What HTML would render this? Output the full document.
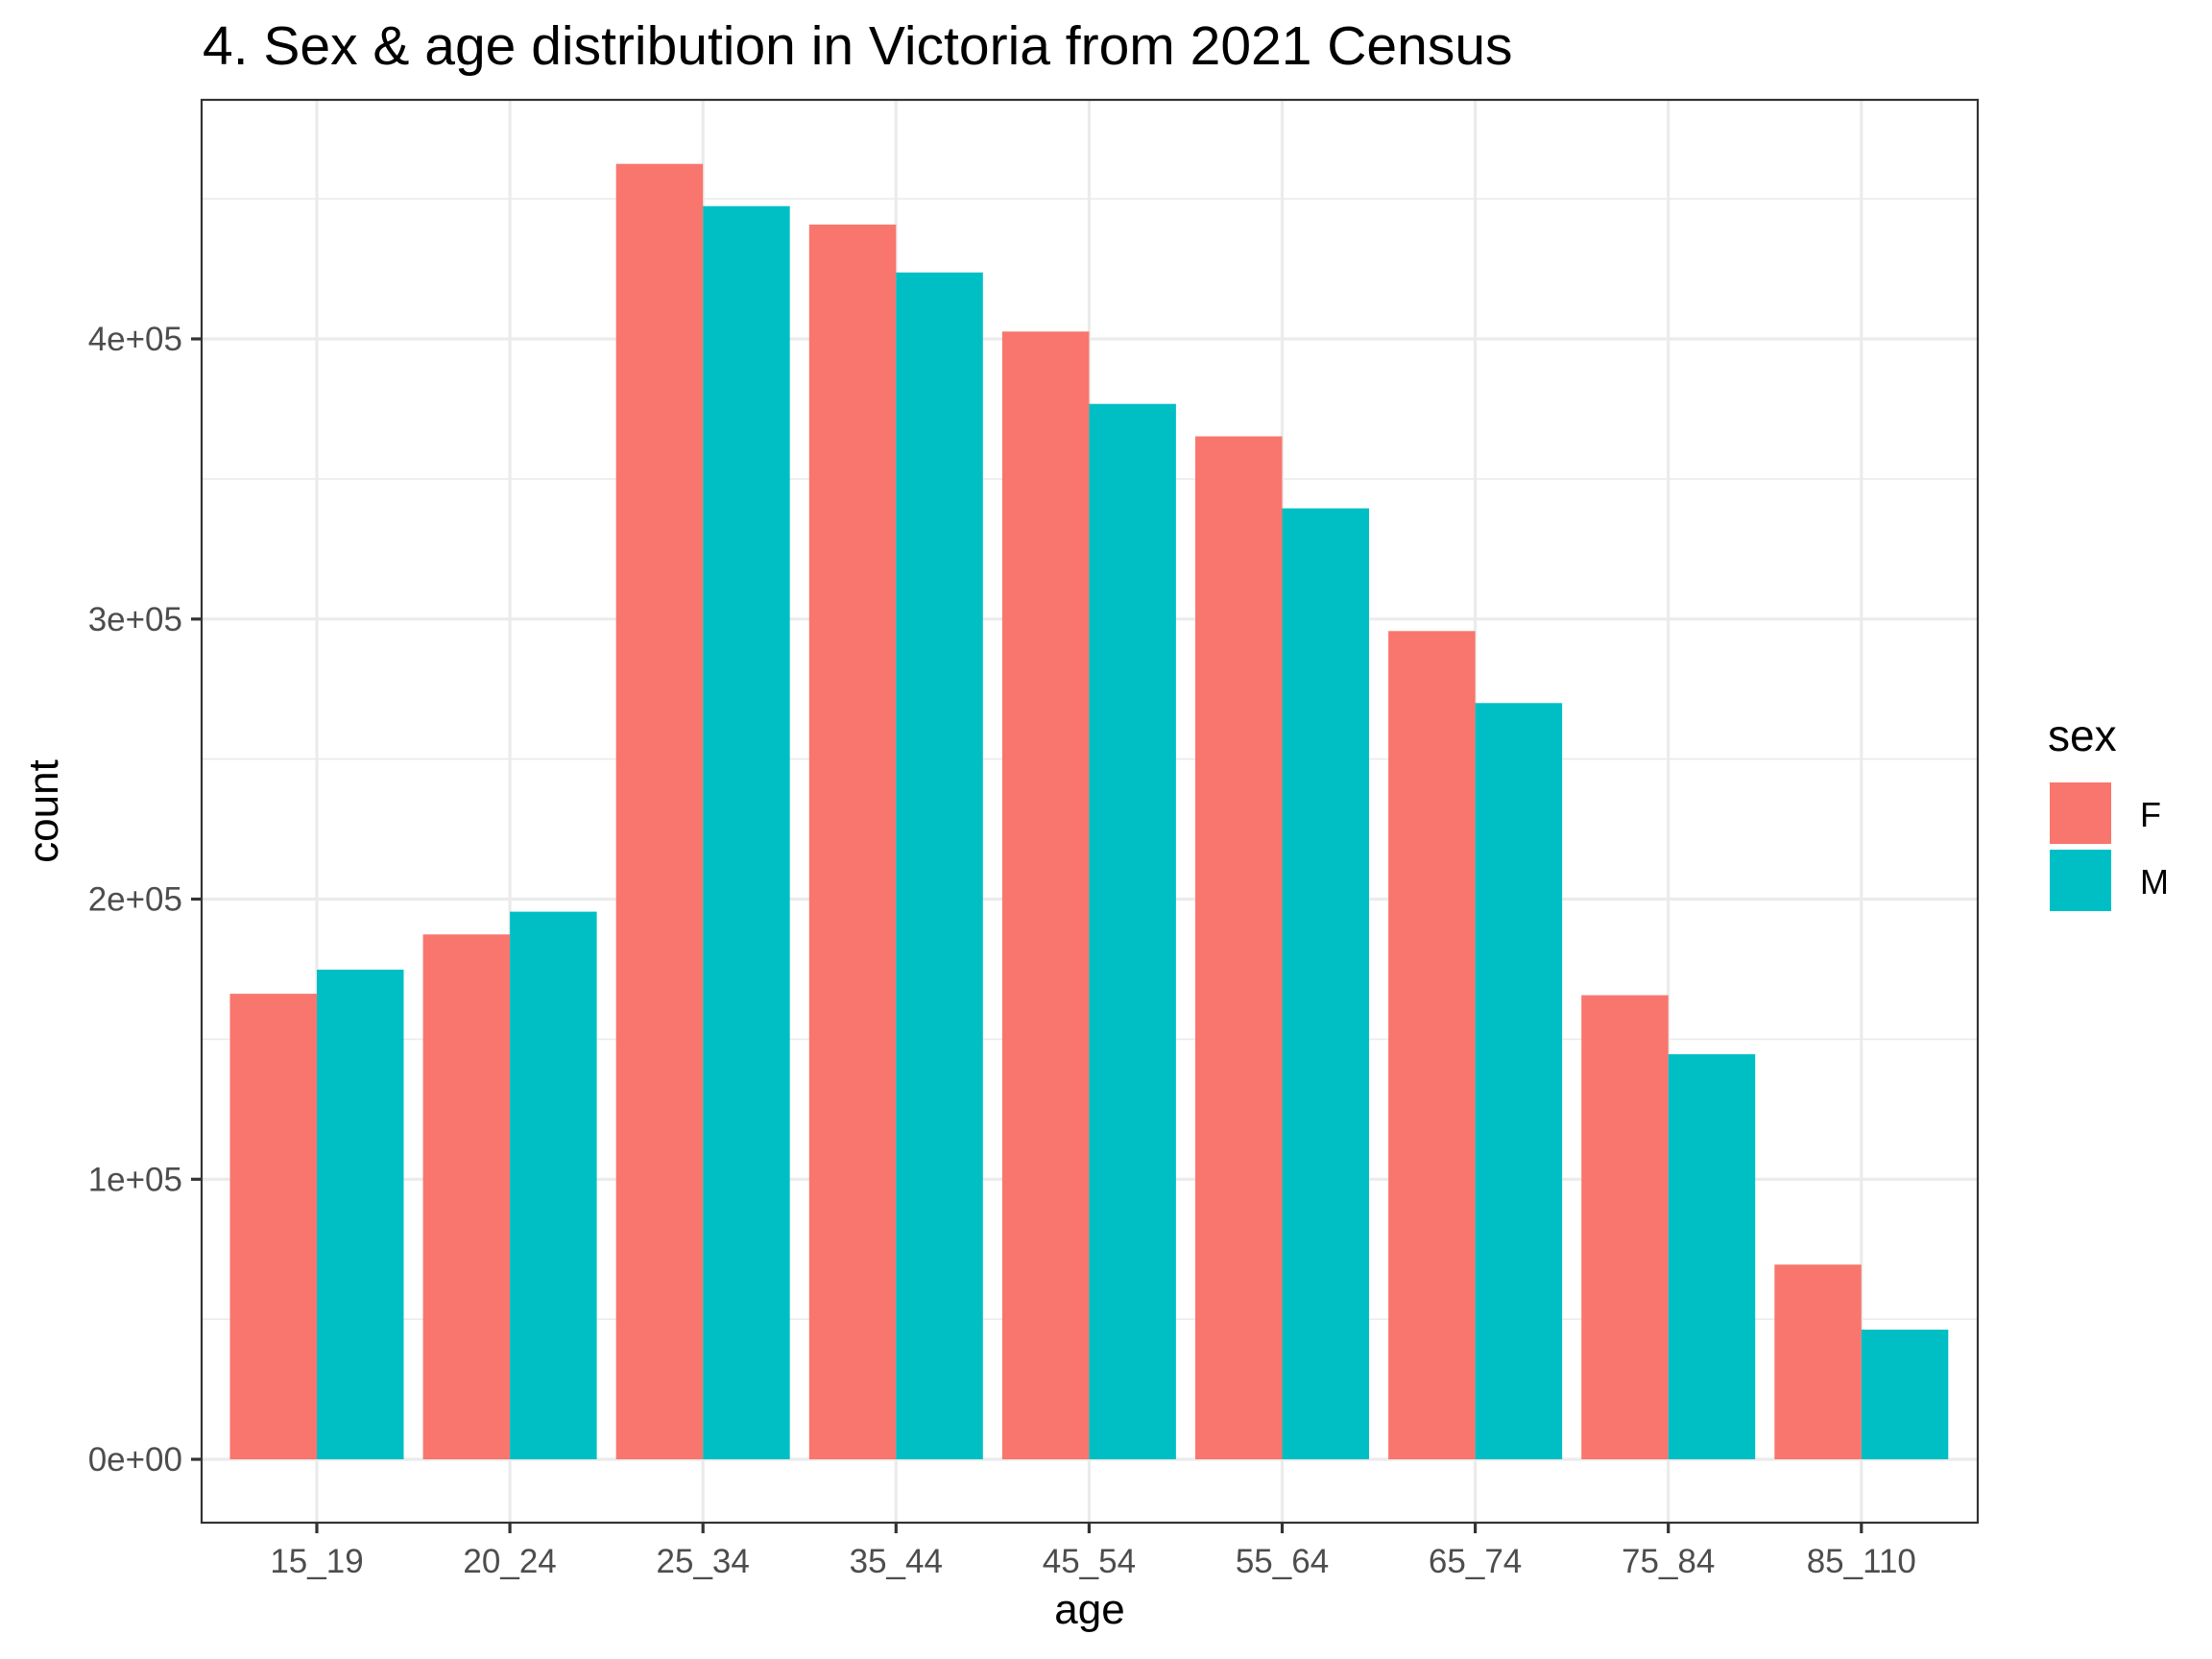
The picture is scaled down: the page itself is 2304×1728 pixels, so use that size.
<!DOCTYPE html>
<html><head><meta charset="utf-8"><style>html,body{margin:0;padding:0;background:#fff}svg{display:block}</style></head>
<body>
<svg width="2304" height="1728" viewBox="0 0 2304 1728" xmlns="http://www.w3.org/2000/svg" font-family="'Liberation Sans', sans-serif">
<rect width="2304" height="1728" fill="#fff"/>
<text x="211" y="67" font-size="57" fill="#000">4. Sex &amp; age distribution in Victoria from 2021 Census</text>
<g stroke="#EBEBEB" stroke-width="1.6">
<line x1="210" x2="2060" y1="1374.1" y2="1374.1"/>
<line x1="210" x2="2060" y1="1082.4" y2="1082.4"/>
<line x1="210" x2="2060" y1="790.6" y2="790.6"/>
<line x1="210" x2="2060" y1="498.9" y2="498.9"/>
<line x1="210" x2="2060" y1="207.1" y2="207.1"/>
</g>
<g stroke="#EBEBEB" stroke-width="3.2">
<line x1="210" x2="2060" y1="1520" y2="1520"/>
<line x1="210" x2="2060" y1="1228.3" y2="1228.3"/>
<line x1="210" x2="2060" y1="936.5" y2="936.5"/>
<line x1="210" x2="2060" y1="644.8" y2="644.8"/>
<line x1="210" x2="2060" y1="353" y2="353"/>
<line x1="330" x2="330" y1="104" y2="1586"/>
<line x1="531.1" x2="531.1" y1="104" y2="1586"/>
<line x1="732.2" x2="732.2" y1="104" y2="1586"/>
<line x1="933.3" x2="933.3" y1="104" y2="1586"/>
<line x1="1134.4" x2="1134.4" y1="104" y2="1586"/>
<line x1="1335.5" x2="1335.5" y1="104" y2="1586"/>
<line x1="1536.6" x2="1536.6" y1="104" y2="1586"/>
<line x1="1737.7" x2="1737.7" y1="104" y2="1586"/>
<line x1="1938.8" x2="1938.8" y1="104" y2="1586"/>
</g>
<g fill="#F8766D">
<rect x="239.5" y="1035.1" width="90.5" height="484.9"/>
<rect x="440.6" y="973.3" width="90.5" height="546.7"/>
<rect x="641.7" y="170.7" width="90.5" height="1349.3"/>
<rect x="842.8" y="233.9" width="90.5" height="1286.1"/>
<rect x="1043.9" y="345.3" width="90.5" height="1174.7"/>
<rect x="1245.0" y="454.5" width="90.5" height="1065.5"/>
<rect x="1446.1" y="657.3" width="90.5" height="862.7"/>
<rect x="1647.2" y="1036.6" width="90.5" height="483.4"/>
<rect x="1848.3" y="1317.2" width="90.5" height="202.8"/>
</g>
<g fill="#00BFC4">
<rect x="330" y="1010" width="90.5" height="510"/>
<rect x="531.1" y="949.6" width="90.5" height="570.4"/>
<rect x="732.2" y="214.7" width="90.5" height="1305.3"/>
<rect x="933.3" y="283.8" width="90.5" height="1236.2"/>
<rect x="1134.4" y="420.7" width="90.5" height="1099.3"/>
<rect x="1335.5" y="529.5" width="90.5" height="990.5"/>
<rect x="1536.6" y="732.3" width="90.5" height="787.7"/>
<rect x="1737.7" y="1098.1" width="90.5" height="421.9"/>
<rect x="1938.8" y="1384.9" width="90.5" height="135.1"/>
</g>
<rect x="210" y="104" width="1850" height="1482" fill="none" stroke="#333" stroke-width="2.2"/>
<g stroke="#333" stroke-width="3.2">
<line x1="199" x2="210" y1="1520" y2="1520"/>
<line x1="199" x2="210" y1="1228.3" y2="1228.3"/>
<line x1="199" x2="210" y1="936.5" y2="936.5"/>
<line x1="199" x2="210" y1="644.8" y2="644.8"/>
<line x1="199" x2="210" y1="353" y2="353"/>
<line x1="330" x2="330" y1="1586" y2="1597"/>
<line x1="531.1" x2="531.1" y1="1586" y2="1597"/>
<line x1="732.2" x2="732.2" y1="1586" y2="1597"/>
<line x1="933.3" x2="933.3" y1="1586" y2="1597"/>
<line x1="1134.4" x2="1134.4" y1="1586" y2="1597"/>
<line x1="1335.5" x2="1335.5" y1="1586" y2="1597"/>
<line x1="1536.6" x2="1536.6" y1="1586" y2="1597"/>
<line x1="1737.7" x2="1737.7" y1="1586" y2="1597"/>
<line x1="1938.8" x2="1938.8" y1="1586" y2="1597"/>
</g>
<g font-size="35" fill="#4D4D4D" text-anchor="end">
<text x="190" y="1532">0e+00</text>
<text x="190" y="1240.3">1e+05</text>
<text x="190" y="948.5">2e+05</text>
<text x="190" y="656.8">3e+05</text>
<text x="190" y="365">4e+05</text>
</g>
<g font-size="35" fill="#4D4D4D" text-anchor="middle">
<text x="330" y="1638">15_19</text>
<text x="531.1" y="1638">20_24</text>
<text x="732.2" y="1638">25_34</text>
<text x="933.3" y="1638">35_44</text>
<text x="1134.4" y="1638">45_54</text>
<text x="1335.5" y="1638">55_64</text>
<text x="1536.6" y="1638">65_74</text>
<text x="1737.7" y="1638">75_84</text>
<text x="1938.8" y="1638">85_110</text>
</g>
<text x="1135" y="1691" font-size="44" text-anchor="middle" fill="#000">age</text>
<text transform="translate(60,845) rotate(-90)" font-size="44" text-anchor="middle" fill="#000">count</text>
<text x="2133" y="782" font-size="46" fill="#000">sex</text>
<rect x="2135" y="815" width="64" height="64" fill="#F8766D"/>
<rect x="2135" y="885" width="64" height="64" fill="#00BFC4"/>
<text x="2229" y="861" font-size="36" fill="#000">F</text>
<text x="2229" y="931" font-size="36" fill="#000">M</text>
</svg>
</body></html>
